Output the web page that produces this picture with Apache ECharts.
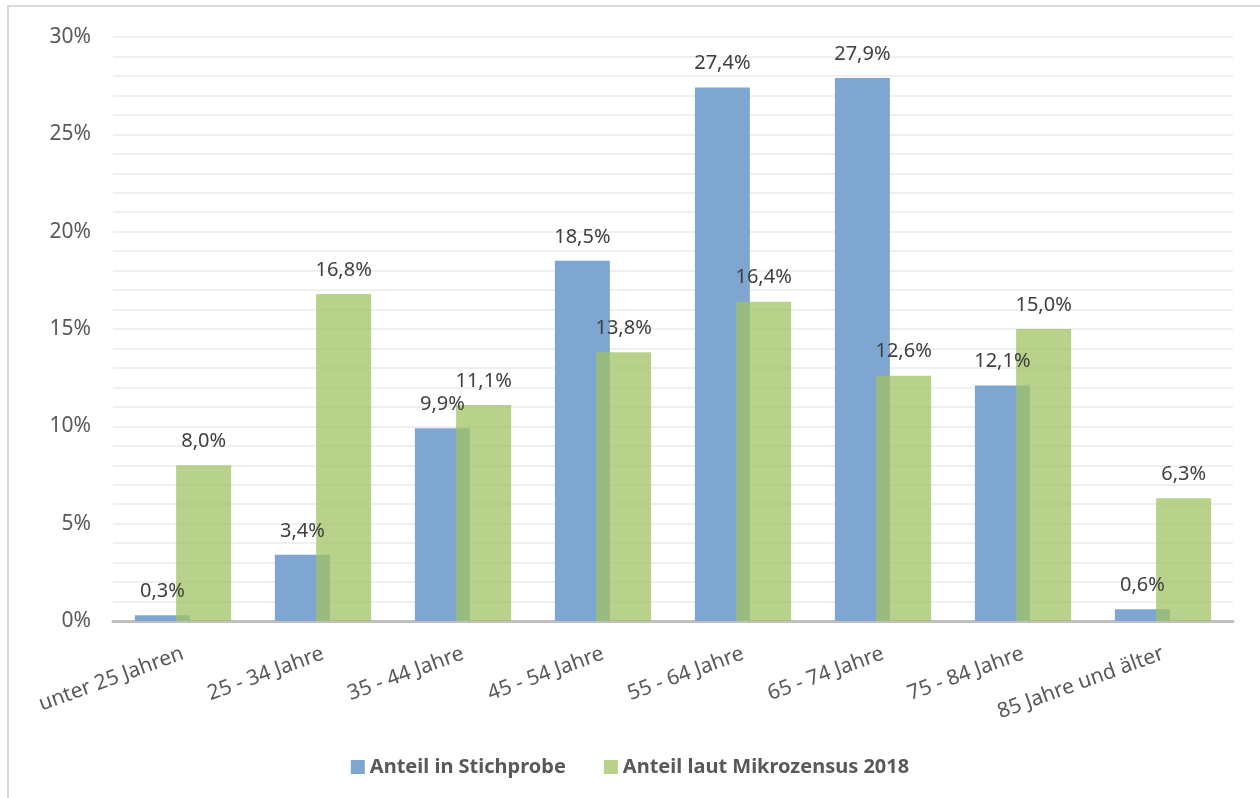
<!DOCTYPE html>
<html><head><meta charset="utf-8">
<script src="https://cdn.jsdelivr.net/npm/echarts@6/dist/echarts.min.js"></script>
<style>html,body{margin:0;padding:0;background:#fff}#c{width:1260px;height:798px}</style>
</head><body><div id="c"></div>
<script>
const categories = ['unter 25 Jahren','25 - 34 Jahre','35 - 44 Jahre','45 - 54 Jahre','55 - 64 Jahre','65 - 74 Jahre','75 - 84 Jahre','85 Jahre und älter'];
const stichprobe = [0.3, 3.4, 9.9, 18.5, 27.4, 27.9, 12.1, 0.6];
const mikrozensus = [8.0, 16.8, 11.1, 13.8, 16.4, 12.6, 15.0, 6.3];
const seriesNames = ['Anteil in Stichprobe', 'Anteil laut Mikrozensus 2018'];
const FONT = '"Noto Sans", sans-serif';
const fmt = v => v.toFixed(1).replace('.', ',') + '%';
const chart = echarts.init(document.getElementById('c'));
chart.setOption({
  animation: false,
  backgroundColor: '#fff',
  graphic: [{type:'rect', shape:{x:8,y:6,width:1300,height:900}, style:{fill:'none', stroke:'#d9d9d9', lineWidth:2}, silent:true}],
  grid: {left:113, right:27, top:37, bottom:177, containLabel:false},
  legend: {
    bottom: 16, left: 'center', itemWidth: 14, itemHeight: 14, itemGap: 38,
    icon: 'rect',
    textStyle: {fontFamily: FONT, fontSize: 20, fontWeight: 'bold', color: '#595959'},
    data: seriesNames
  },
  xAxis: {
    type: 'category', data: categories,
    axisLine: {lineStyle: {color: '#bfbfbf', width: 3}},
    axisTick: {show: false},
    axisLabel: {rotate: 20, interval: 0, margin: 32, color: '#595959', fontFamily: FONT, fontSize: 21}
  },
  yAxis: {
    type: 'value', min: 0, max: 30, interval: 5,
    axisLine: {show: false}, axisTick: {show: false},
    axisLabel: {formatter: v => v + '%', margin: 22, color: '#595959', fontFamily: FONT, fontSize: 21},
    splitLine: {lineStyle: {color: '#f0f0f0', width: 2}},
    minorTick: {show: false, splitNumber: 5},
    minorSplitLine: {show: true, lineStyle: {color: '#f0f0f0', width: 2}}
  },
  series: [
    {
      name: seriesNames[0], type: 'bar', data: stichprobe,
      barWidth: 55, barGap: '-25%', barCategoryGap: '32%',
      itemStyle: {color: '#7fa6d1'},
      label: {show: true, position: 'top', distance: 14, formatter: p => fmt(p.value), color: '#404040', fontFamily: FONT, fontSize: 20}
    },
    {
      name: seriesNames[1], type: 'bar', data: mikrozensus,
      barWidth: 55,
      itemStyle: {color: 'rgba(160,194,100,0.75)'},
      label: {show: true, position: 'top', distance: 14, formatter: p => fmt(p.value), color: '#404040', fontFamily: FONT, fontSize: 20}
    }
  ]
});
</script></body></html>
